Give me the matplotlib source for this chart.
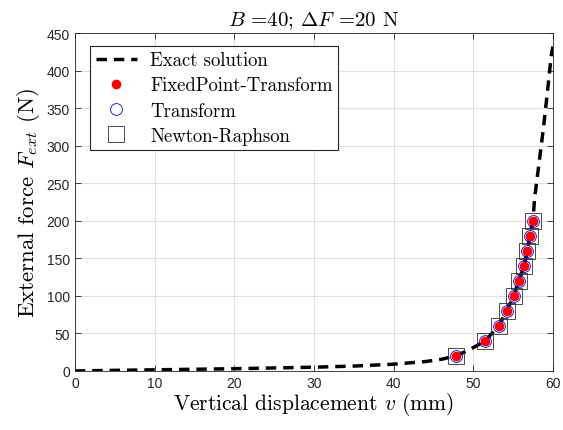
import matplotlib
matplotlib.use("Agg")
import matplotlib.pyplot as plt

plt.rcParams['mathtext.fontset'] = 'cm'
plt.rcParams['axes.unicode_minus'] = False

# exact solution
v_exact = [0, 5, 10, 20, 30, 35, 40, 44, 46, 47.8, 49.5, 51.5, 53.2, 54.2, 55.1,
           55.7, 56.4, 56.8, 57.1, 57.5, 57.7, 58.3, 58.8, 59.3, 59.8, 60]
F_exact = [0, 0.8, 1.5, 3, 5, 6.5, 9, 12.5, 15.5, 20, 28, 40, 60, 80, 100,
           120, 140, 160, 180, 200, 229, 280, 322, 370, 420, 432]

# iterative solutions (all three coincide)
F_pts = [20, 40, 60, 80, 100, 120, 140, 160, 180, 200]
v_pts = [47.8, 51.5, 53.2, 54.2, 55.1, 55.7, 56.4, 56.8, 57.1, 57.5]

serif = 'cmr10'
fig = plt.figure(figsize=(5.63, 4.31), dpi=100)
ax = fig.add_axes([0.133, 0.137, 0.849, 0.784])

ax.plot(v_exact, F_exact, '--', color='black', lw=2.5, dashes=(3, 2),
        label='Exact solution', zorder=2)
ax.plot(v_pts, F_pts, 'o', color='red', ms=6, mec='red', ls='none',
        label='FixedPoint-Transform', zorder=5)
ax.plot(v_pts, F_pts, 'o', mfc='none', mec='blue', ms=8.5, mew=0.6, ls='none',
        label='Transform', zorder=4)
ax.plot(v_pts, F_pts, 's', mfc='none', mec='#303030', ms=11.5, mew=0.6, ls='none',
        label='Newton-Raphson', zorder=3)

ax.set_xlim(0, 60)
ax.set_ylim(0, 450)
ax.set_xticks(range(0, 61, 10))
ax.set_yticks(range(0, 451, 50))
ax.grid(True, color='#e0e0e0', lw=0.8)
ax.set_axisbelow(True)
ax.tick_params(direction='in', top=True, right=True, labelsize=10,
               colors='#262626', length=4, width=0.6)
for lab in ax.get_xticklabels() + ax.get_yticklabels():
    lab.set_fontfamily('Liberation Sans')
for s in ax.spines.values():
    s.set_color('#262626')
    s.set_linewidth(0.6)

ax.set_xlabel(r'Vertical displacement $v$ (mm)', fontfamily=serif, fontsize=15.5,
              labelpad=0)
ax.set_ylabel(r'External force $F_{ext}$ (N)', fontfamily=serif, fontsize=16.5,
              labelpad=3)
ax.set_title(r'$B$ =40; $\Delta F$ =20 N', fontfamily=serif, fontsize=15, pad=6)

leg = ax.legend(loc='upper left', prop={'family': serif, 'size': 13.5},
                fancybox=False, edgecolor='#262626', framealpha=1,
                borderpad=0.3, labelspacing=0.38, handlelength=2.2,
                handletextpad=0.7, borderaxespad=0,
                bbox_to_anchor=(0.032, 0.962))
leg.get_frame().set_linewidth(0.8)

fig.savefig('out.png', dpi=100)
